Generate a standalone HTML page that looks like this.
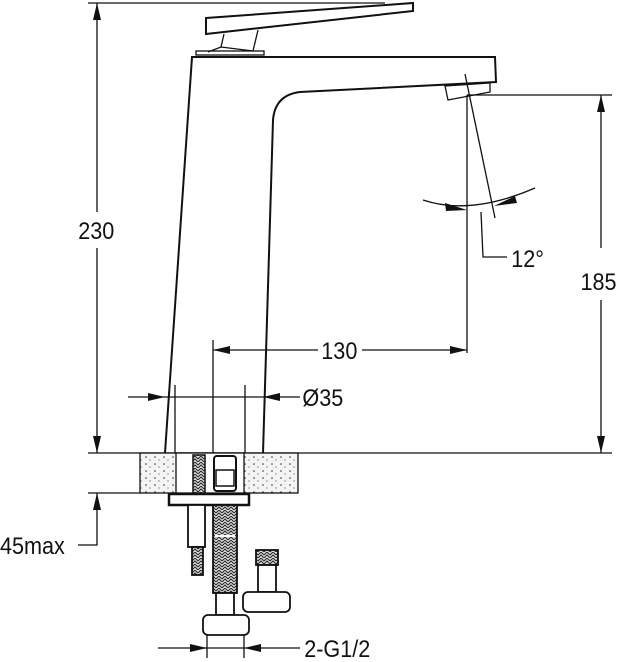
<!DOCTYPE html>
<html><head><meta charset="utf-8"><style>
html,body{margin:0;padding:0;background:#fff}
svg{display:block}
text{font-family:"Liberation Sans",sans-serif;font-size:24px;fill:#111}
</style></head><body>
<svg width="620" height="662" viewBox="0 0 620 662" xmlns="http://www.w3.org/2000/svg">
<defs>
<pattern id="dots" width="9" height="7" patternUnits="userSpaceOnUse">
<rect width="9" height="7" fill="#f4f4f4"/>
<circle cx="2" cy="2" r="0.8" fill="#333"/><circle cx="6" cy="5" r="0.6" fill="#555"/>
</pattern>
<pattern id="braid" width="6" height="6" patternUnits="userSpaceOnUse">
<rect width="6" height="6" fill="#ddd"/>
<path d="M0 3 L3 0 L6 3 M0 6 L3 3 L6 6" stroke="#222" stroke-width="1" fill="none"/>
</pattern>
</defs>
<g stroke="#111" stroke-width="1.3" fill="none">
<line x1="88" y1="3" x2="385" y2="3"/>
<line x1="97" y1="3" x2="97" y2="453"/>
<line x1="88" y1="453" x2="612" y2="453"/>
<line x1="88" y1="493" x2="140" y2="493"/>
<polyline points="97,493 97,545 78,545"/>
<polygon points="206,18 413,3 413,11 206,34" stroke-width="2"/>
<line x1="224" y1="34" x2="221" y2="47"/>
<line x1="258" y1="30" x2="253" y2="51"/>
<polyline points="208,52 221,47 253,51"/>
<rect x="196" y="51" width="68" height="4"/>
<path d="M165,453 L192,57 L495,57 L496,82 L300,92 Q275,95 273,120 L263,453" stroke-width="2"/>
<polygon points="445,86 490,83 490,92 448,100"/>
<line x1="465" y1="74" x2="495" y2="218"/>
<line x1="467" y1="95" x2="467" y2="353"/>
<line x1="467" y1="95" x2="612" y2="95"/>
<path d="M423,200 Q470,216 535,188"/>
<polyline points="481,212 483,257 507,257"/>
<line x1="601" y1="95" x2="601" y2="248"/>
<line x1="601" y1="300" x2="601" y2="453"/>
<line x1="213" y1="350" x2="318" y2="350"/>
<line x1="362" y1="350" x2="467" y2="350"/>
<line x1="213" y1="340" x2="213" y2="500"/>
<line x1="128" y1="397" x2="300" y2="397"/>
<line x1="175" y1="385" x2="175" y2="455"/>
<line x1="245" y1="385" x2="245" y2="455"/>
<line x1="158" y1="648" x2="300" y2="648"/>
<line x1="207" y1="630" x2="207" y2="658"/>
<line x1="244" y1="630" x2="244" y2="658"/>
</g>
<g fill="#111">
<polygon points="97,3 93,20 101,20"/>
<polygon points="97,453 93,436 101,436"/>
<polygon points="97,493 93,510 101,510"/>
<polygon points="601,95 597,112 605,112"/>
<polygon points="601,453 597,436 605,436"/>
<polygon points="213,350 230,346 230,354"/>
<polygon points="467,350 450,346 450,354"/>
<polygon points="165,397 148,393 148,401"/>
<polygon points="263,397 280,393 280,401"/>
<polygon points="207,648 190,644 190,652"/>
<polygon points="244,648 261,644 261,652"/>
<polygon points="467,210 445,203 446,211"/>
<polygon points="494,206 515,196 517,203"/>
</g>
<rect x="140" y="453" width="158" height="40" fill="url(#dots)" stroke="#111" stroke-width="1.3"/>
<rect x="176" y="453" width="68" height="40" fill="#fff" stroke="#111" stroke-width="1.3"/>
<rect x="193" y="455" width="12" height="38" fill="url(#braid)" stroke="#111" stroke-width="1.5"/>
<rect x="214" y="456" width="22" height="35" rx="3" fill="#fff" stroke="#111" stroke-width="2"/>
<rect x="216" y="470" width="18" height="16" fill="#fff" stroke="#111" stroke-width="1.5"/>
<rect x="169" y="494" width="80" height="11" fill="#fff" stroke="#111" stroke-width="2.5"/>
<g stroke="#111" stroke-width="1.8" fill="#fff">
<rect x="188" y="505" width="17" height="42"/>
<rect x="192" y="547" width="11" height="28" fill="url(#braid)"/>
<rect x="213" y="505" width="24" height="88" fill="url(#braid)"/>
<rect x="216" y="593" width="18" height="22"/>
<rect x="203" y="615" width="46" height="20" rx="5"/>
<rect x="256" y="550" width="22" height="15" fill="url(#braid)"/>
<rect x="258" y="565" width="18" height="27"/>
<rect x="243" y="592" width="47" height="20" rx="5"/>
</g>
<line x1="215" y1="536" x2="235" y2="536" stroke="#fff" stroke-width="2"/>
<rect x="78" y="212" width="40" height="36" fill="#fff"/>
<g transform="scale(0.9,1)">
<text x="87" y="239">230</text>
<text x="645" y="290">185</text>
<text x="568" y="267">12°</text>
<text x="357" y="359">130</text>
<text x="336" y="406">Ø35</text>
<text x="0" y="554">45max</text>
<text x="338" y="657">2-G1/2</text>
</g>
<rect x="580" y="250" width="0" height="0" fill="#fff"/>
</svg>
</body></html>
